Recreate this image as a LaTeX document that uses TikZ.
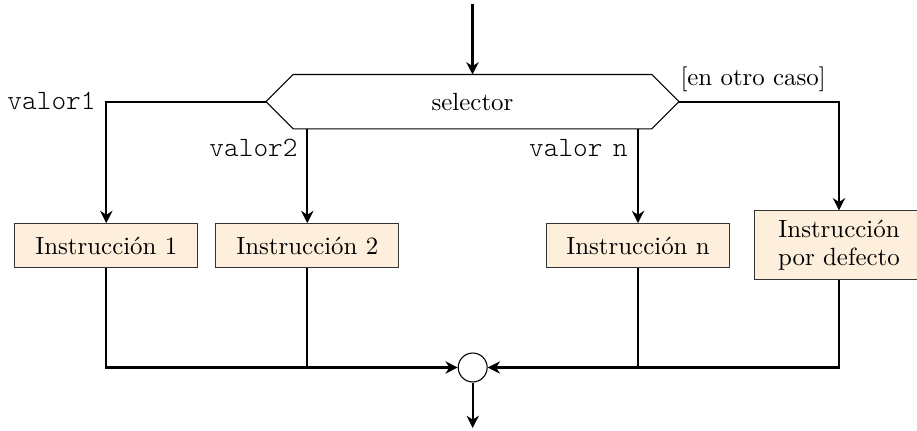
\documentclass[tikz,border=0pt]{standalone}
\usepackage{fontspec}
\usetikzlibrary{arrows.meta,shapes.symbols,calc}
\newfontfamily\lighttt{Latin Modern Mono Light}
\newcommand{\tlab}[1]{{\fontsize{11.4}{13}\selectfont\lighttt #1}}
\definecolor{boxfill}{RGB}{254,238,220}
\tikzset{
  x=0.408pt,y=-0.408pt,
  every node/.style={font=\fontsize{10.15}{12.4}\selectfont},
  instr/.style={draw=black!80,fill=boxfill,line width=0.45pt,align=center,inner sep=0pt,text width=74.6pt,minimum height=17.8pt},
  conn/.style={line width=0.9pt,-{Stealth[length=5pt,width=5pt,inset=1.6pt]}},
  plainconn/.style={line width=0.9pt},
  lab/.style={inner sep=0pt,anchor=base east}
}
\begin{document}
\begin{tikzpicture}
\useasboundingbox (0,0) rectangle (917,431);
\begin{scope}
\clip (0,0) rectangle (917,431);
\node[draw,fill=white,line width=0.45pt,signal,signal to=east and west,signal pointer angle=90,minimum width=168.5pt,minimum height=22.2pt,inner sep=0pt,outer sep=0pt] (sel) at (472.5,101.7) {selector};
\node[instr] (i1) at (106.3,245.5) {Instrucción 1};
\node[instr] (i2) at (307.3,245.5) {Instrucción 2};
\node[instr] (in) at (638,245.5) {Instrucción n};
\node[instr,text width=68.6pt,minimum height=27.8pt] (id) at (839,245) {Instrucción\\[-1pt]por defecto};
\node[draw,fill=white,circle,line width=0.45pt,minimum size=11.8pt,inner sep=0pt] (c) at (472.7,367.5) {};
\end{scope}
\coordinate (top) at (472.5,4);
\coordinate (bot) at (472.7,428);
\draw[conn] (top) -- (sel.north);
\draw[conn] (sel.west) -| (i1.north);
\draw[conn] (sel.east) -| (id.north);
\draw[conn] (sel.south -| i2.north) -- (i2.north);
\draw[conn] (sel.south -| in.north) -- (in.north);
\draw[conn] (i1.south) |- (c.west);
\draw[conn] (id.south) |- (c.east);
\draw[plainconn] (i2.south) -- (i2.south |- c.west);
\draw[plainconn] (in.south) -- (in.south |- c.west);
\draw[conn] (c.south) -- (bot);
\node[lab] (l1) at (96,110) {\tlab{valor1}};
\node[lab] (l2) at (298,157) {\tlab{valor2}};
\node[lab] (ln) at (628,157) {\tlab{valor\hspace{4.2pt}n}};
\node[inner sep=0pt,anchor=base west] (lo) at (680,86) {[en otro caso]};
\end{tikzpicture}
\end{document}
